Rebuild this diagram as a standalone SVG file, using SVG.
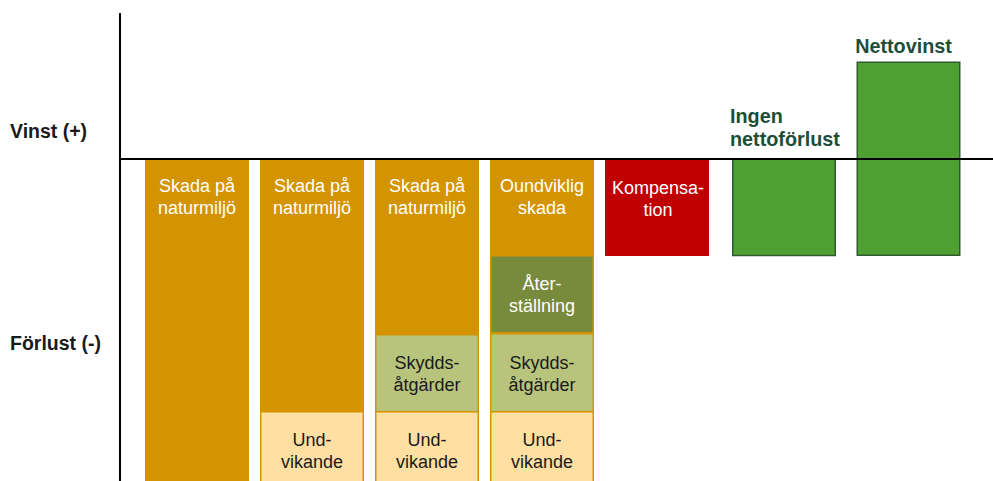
<svg xmlns="http://www.w3.org/2000/svg" width="993" height="481" viewBox="0 0 993 481">
<style>
text{font-family:"Liberation Sans",Arial,sans-serif;font-size:18px;text-anchor:middle}
.w{fill:#ffffff}
.k{fill:#1a1a1a}
.lab{font-weight:bold;font-size:19.5px;fill:#1a1a1a;text-anchor:start}
.g{font-weight:bold;font-size:19.8px;fill:#1e4d38}
.or{fill:#D49400}
.ly{fill:#FFE0A2;stroke:#D49400;stroke-width:1.5}
.sg{fill:#B8C47C;stroke:#D49400;stroke-width:1.5}
.dg{fill:#788A3B;stroke:#D49400;stroke-width:1.5}
.red{fill:#C00000}
.gr{fill:#4FA033;stroke:#2E5C2E;stroke-width:1.5}
.ax{stroke:#000;stroke-width:2;fill:none}
</style>
<rect width="993" height="481" fill="#fff"/>
<g id="labels">
<text class="lab" x="10" y="138">Vinst (+)</text>
<text class="lab" x="10" y="350">Förlust (-)</text>
</g>
<g id="col1">
<rect class="or" x="145" y="159" width="104" height="322"/>
<text class="w" x="197" y="192">Skada på</text>
<text class="w" x="197" y="214">naturmiljö</text>
</g>
<g id="col2">
<rect class="or" x="260" y="159" width="104" height="322"/>
<text class="w" x="312" y="192">Skada på</text>
<text class="w" x="312" y="214">naturmiljö</text>
<rect class="ly" x="260.75" y="411.75" width="102.5" height="70"/>
<text class="k" x="312" y="446">Und-</text>
<text class="k" x="312" y="468">vikande</text>
</g>
<g id="col3">
<rect class="or" x="375" y="159" width="104" height="322"/>
<text class="w" x="427" y="192">Skada på</text>
<text class="w" x="427" y="214">naturmiljö</text>
<rect class="sg" x="375.75" y="334.75" width="102.5" height="77"/>
<text class="k" x="427" y="369">Skydds-</text>
<text class="k" x="427" y="391">åtgärder</text>
<rect class="ly" x="375.75" y="411.75" width="102.5" height="70"/>
<text class="k" x="427" y="446">Und-</text>
<text class="k" x="427" y="468">vikande</text>
</g>
<g id="col4">
<rect class="or" x="490" y="159" width="104" height="322"/>
<text class="w" x="542" y="192">Oundviklig</text>
<text class="w" x="542" y="214">skada</text>
<rect class="dg" x="490.75" y="255.75" width="102.5" height="77"/>
<text class="w" x="542" y="290">Åter-</text>
<text class="w" x="542" y="312">ställning</text>
<rect class="sg" x="490.75" y="333.75" width="102.5" height="78"/>
<text class="k" x="542" y="369">Skydds-</text>
<text class="k" x="542" y="391">åtgärder</text>
<rect class="ly" x="490.75" y="411.75" width="102.5" height="70"/>
<text class="k" x="542" y="446">Und-</text>
<text class="k" x="542" y="468">vikande</text>
</g>
<g id="kompensation">
<rect class="red" x="605" y="159" width="104" height="97"/>
<text class="w" x="658" y="194">Kompensa-</text>
<text class="w" x="658" y="216">tion</text>
</g>
<g id="ingen">
<rect class="gr" x="732.75" y="159" width="102.5" height="96.5"/>
<text class="g" x="730" y="123" style="text-anchor:start">Ingen</text>
<text class="g" x="730" y="146" style="text-anchor:start">nettoförlust</text>
</g>
<g id="nettovinst">
<rect class="gr" x="857.25" y="62.25" width="102.5" height="193"/>
<text class="g" x="903.5" y="53">Nettovinst</text>
</g>
<g id="connectors">
<line class="ax" x1="120" y1="13" x2="120" y2="481"/>
<line class="ax" x1="120" y1="159" x2="993" y2="159"/>
</g>
</svg>
